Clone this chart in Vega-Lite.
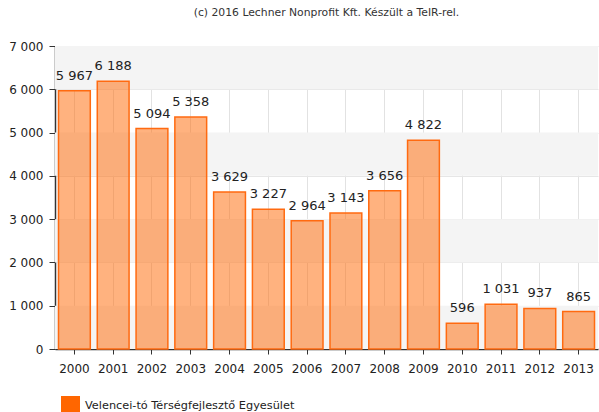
{
  "$schema": "https://vega.github.io/schema/vega-lite/v6.json",
  "autosize": "none",
  "width": 543,
  "height": 303,
  "padding": {"left": 55, "top": 46, "right": 1, "bottom": 63},
  "background": "white",
  "title": {
    "text": "(c) 2016 Lechner Nonprofit Kft. Készült a TeIR-rel.",
    "font": "DejaVu Sans",
    "fontSize": 10.8,
    "fontWeight": "normal",
    "color": "#333333",
    "anchor": "middle",
    "offset": 22
  },
  "config": {
    "locale": {"number": {"decimal": ",", "thousands": " ", "grouping": [3], "currency": ["", ""]}},
    "view": {"stroke": null},
    "font": "DejaVu Sans"
  },
  "datasets": {
    "values": [
      {"year": "2000", "value": 5967, "series": "Velencei-tó Térségfejlesztő Egyesület"},
      {"year": "2001", "value": 6188, "series": "Velencei-tó Térségfejlesztő Egyesület"},
      {"year": "2002", "value": 5094, "series": "Velencei-tó Térségfejlesztő Egyesület"},
      {"year": "2003", "value": 5358, "series": "Velencei-tó Térségfejlesztő Egyesület"},
      {"year": "2004", "value": 3629, "series": "Velencei-tó Térségfejlesztő Egyesület"},
      {"year": "2005", "value": 3227, "series": "Velencei-tó Térségfejlesztő Egyesület"},
      {"year": "2006", "value": 2964, "series": "Velencei-tó Térségfejlesztő Egyesület"},
      {"year": "2007", "value": 3143, "series": "Velencei-tó Térségfejlesztő Egyesület"},
      {"year": "2008", "value": 3656, "series": "Velencei-tó Térségfejlesztő Egyesület"},
      {"year": "2009", "value": 4822, "series": "Velencei-tó Térségfejlesztő Egyesület"},
      {"year": "2010", "value": 596, "series": "Velencei-tó Térségfejlesztő Egyesület"},
      {"year": "2011", "value": 1031, "series": "Velencei-tó Térségfejlesztő Egyesület"},
      {"year": "2012", "value": 937, "series": "Velencei-tó Térségfejlesztő Egyesület"},
      {"year": "2013", "value": 865, "series": "Velencei-tó Térségfejlesztő Egyesület"}
    ],
    "bands": [
      {"lo": 0, "hi": 1000},
      {"lo": 2000, "hi": 3000},
      {"lo": 4000, "hi": 5000},
      {"lo": 6000, "hi": 7000}
    ]
  },
  "layer": [
    {
      "data": {"name": "bands"},
      "mark": {"type": "rect", "color": "#f4f4f4"},
      "encoding": {
        "y": {"field": "lo", "type": "quantitative", "scale": {"domain": [0, 7000]}},
        "y2": {"field": "hi"}
      }
    },
    {
      "data": {"name": "values"},
      "mark": {"type": "bar", "fillOpacity": 0.5, "stroke": "#ff6a10", "strokeWidth": 1.5},
      "encoding": {
        "x": {
          "field": "year", "type": "nominal",
          "scale": {"paddingInner": 0.18, "paddingOuter": 0.09},
          "axis": {
            "title": null, "labelAngle": 0, "labelFontSize": 12, "labelColor": "#222222",
            "labelPadding": 9, "tickSize": 5, "tickColor": "#333333",
            "domainColor": "#333333", "domainWidth": 1.5,
            "grid": true, "gridColor": "#e2e2e2", "bandPosition": 0.5
          }
        },
        "y": {
          "field": "value", "type": "quantitative",
          "scale": {"domain": [0, 7000]},
          "axis": {
            "title": null, "values": [0, 1000, 2000, 3000, 4000, 5000, 6000, 7000],
            "format": ",d", "labelFontSize": 12, "labelColor": "#222222",
            "labelPadding": 6, "tickSize": 6, "tickColor": "#333333",
            "domainColor": "#333333", "domainWidth": 1.5,
            "grid": true, "gridColor": "#e6e6e6"
          }
        },
        "color": {
          "field": "series", "type": "nominal",
          "scale": {"range": ["#ff6600"]},
          "legend": {
            "title": null, "orient": "none", "legendX": 6, "legendY": 350,
            "symbolType": "square", "symbolSize": 361, "symbolOpacity": 1,
            "symbolStrokeWidth": 0, "labelFontSize": 11.3, "labelColor": "#222222",
            "labelOffset": 5, "labelLimit": 0, "padding": 0
          }
        }
      }
    },
    {
      "data": {"name": "values"},
      "mark": {"type": "text", "baseline": "bottom", "dy": -8, "fontSize": 13, "color": "#222222"},
      "encoding": {
        "x": {"field": "year", "type": "nominal"},
        "y": {"field": "value", "type": "quantitative"},
        "text": {"field": "value", "type": "quantitative", "format": ",d"}
      }
    }
  ]
}
